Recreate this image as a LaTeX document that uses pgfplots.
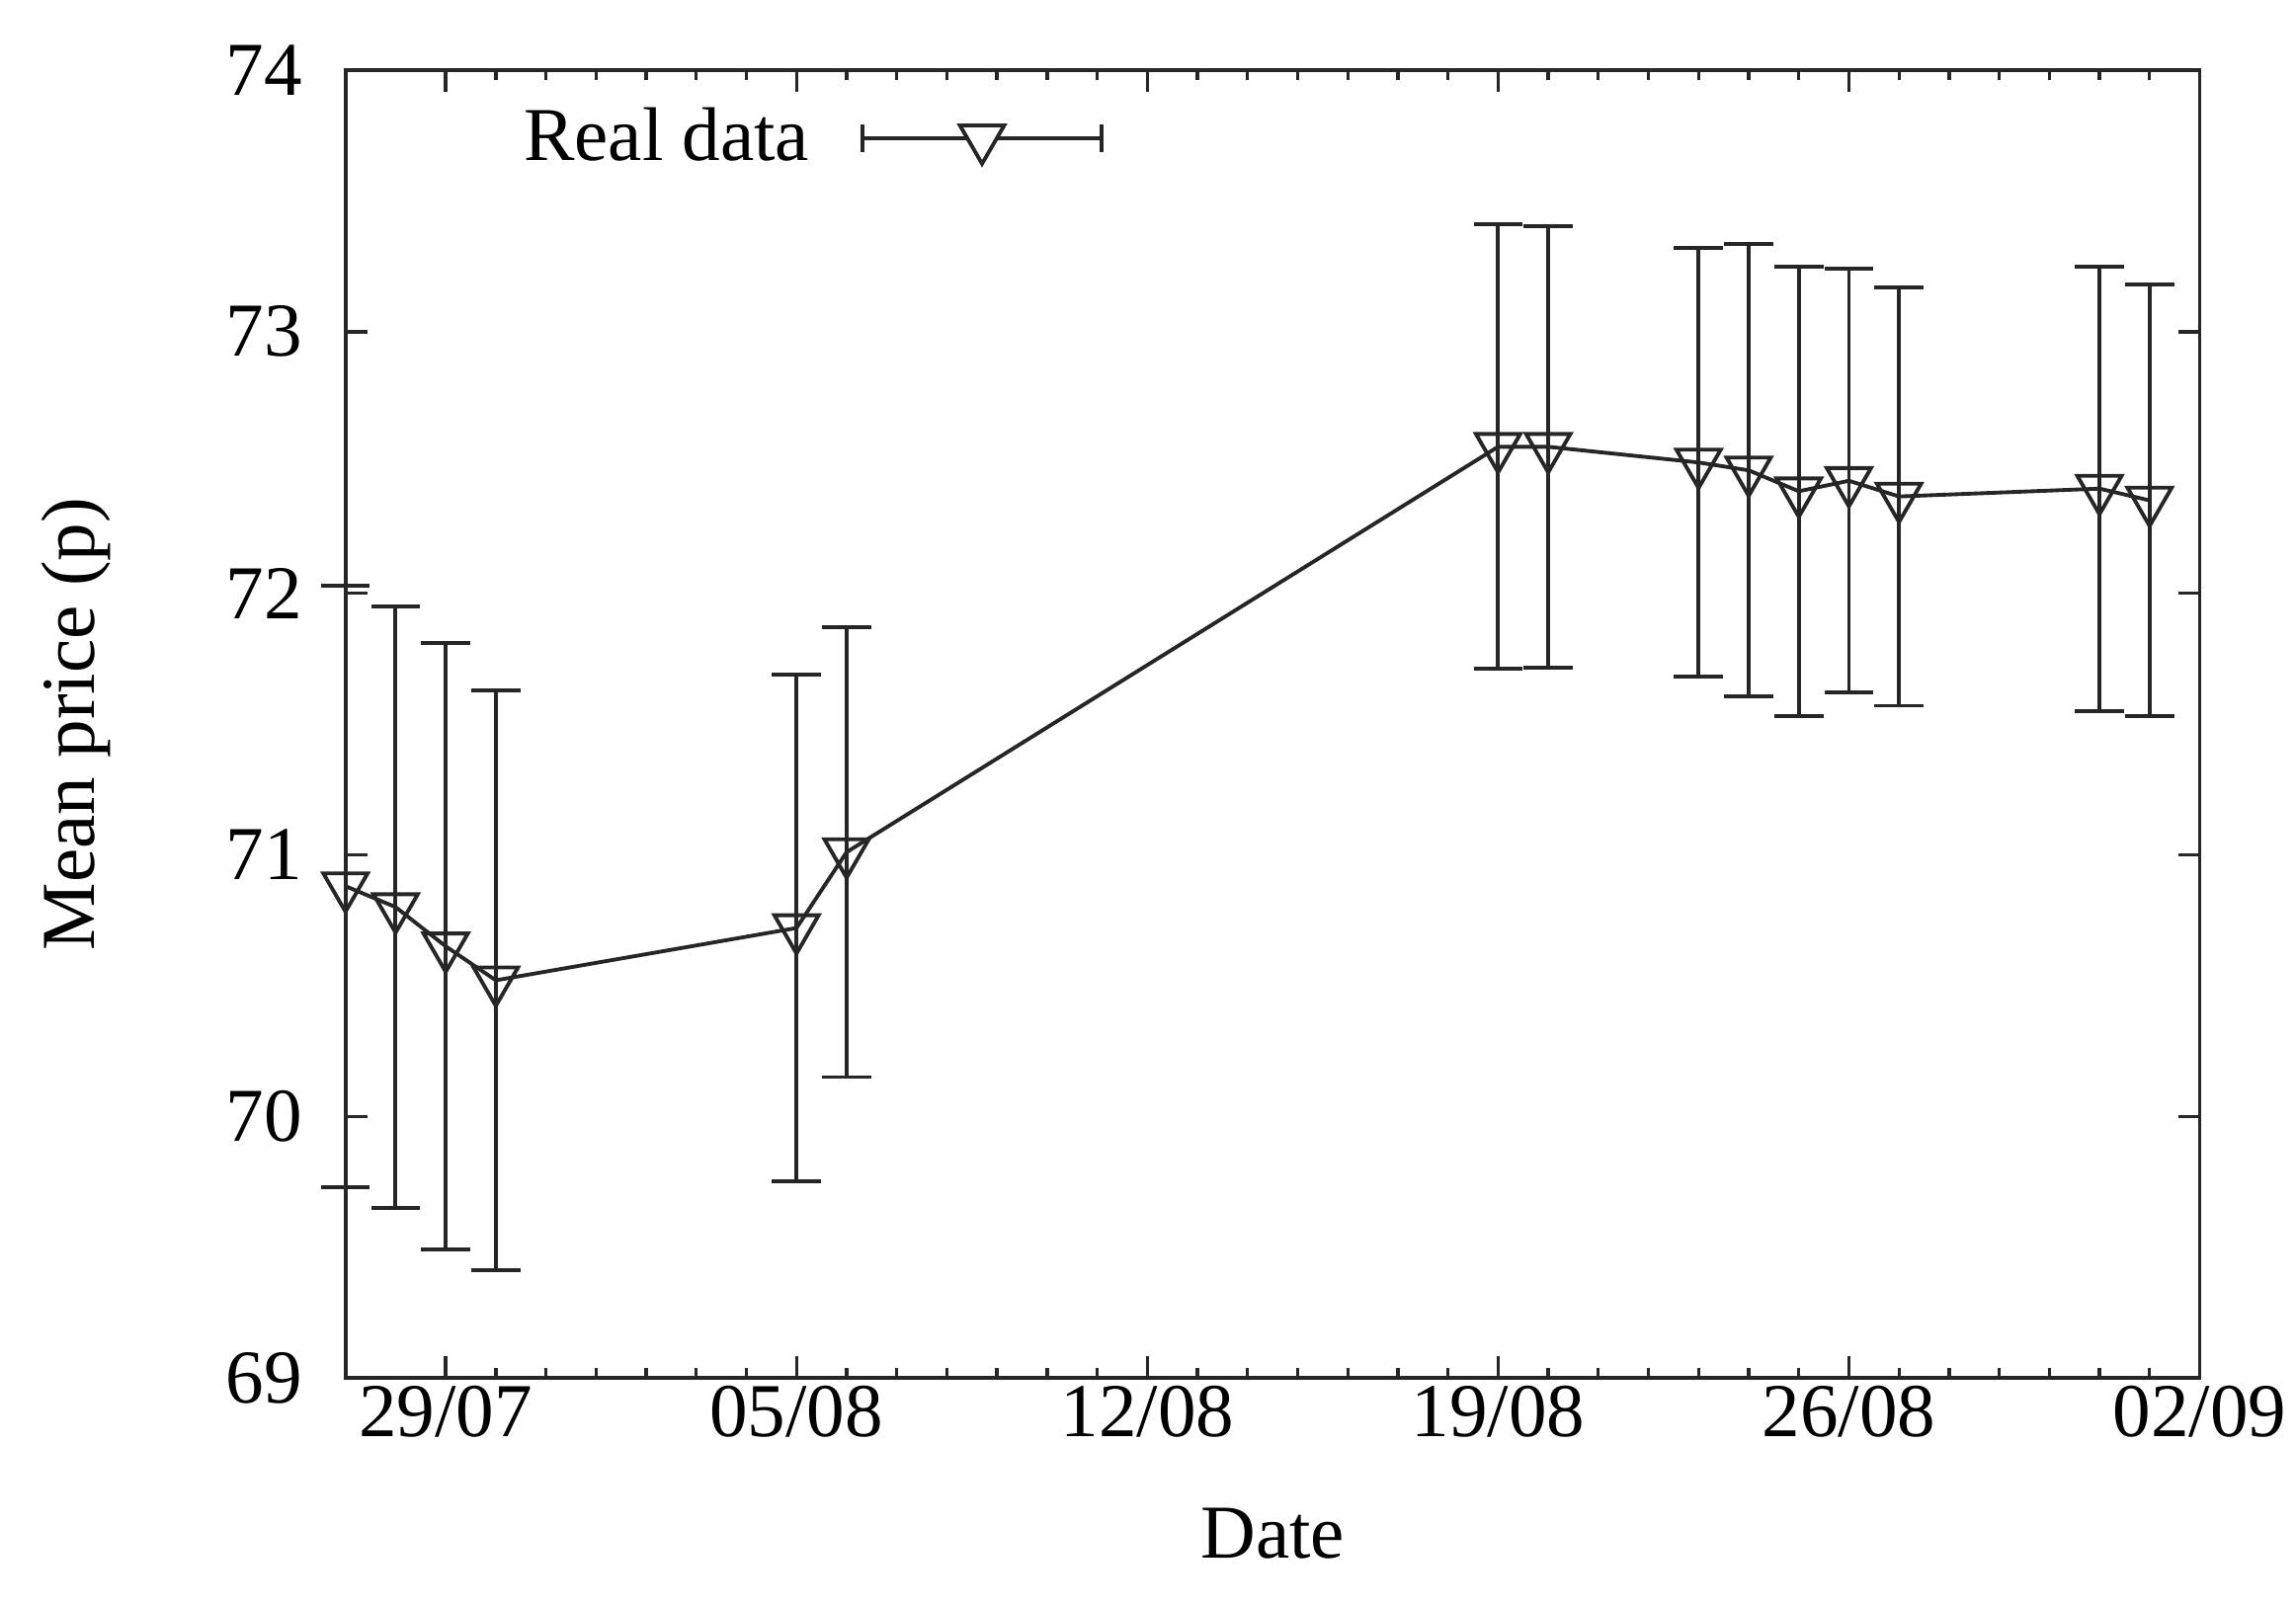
\documentclass[border=0pt]{standalone}
\usepackage{fontspec}
\setmainfont{Liberation Serif}
\usepackage{pgfplots}
\usepackage{pgfplotstable}
\pgfplotsset{compat=1.18}
\pgfplotstableread{
x y e
27 70.88 1.15
28 70.80 1.15
29 70.65 1.16
30 70.52 1.11
36 70.72 0.97
37 71.01 0.86
50 72.56 0.85
51 72.56 0.845
54 72.50 0.82
55 72.47 0.865
56 72.39 0.86
57 72.43 0.81
58 72.37 0.80
62 72.40 0.85
63 72.355 0.825
}\realdata
\definecolor{ink}{gray}{0.15}
\begin{document}
\begin{tikzpicture}[font=\fontsize{14}{16}\selectfont]
\useasboundingbox (-63.5pt,-41.8pt) rectangle (358.5pt,253.3pt);
\begin{axis}[
 at={(0pt,0pt)}, anchor=south west,
 scale only axis, width=340.8pt, height=240.4pt,
 xmin=27, xmax=64, ymin=69, ymax=74,
 xtick={29,36,43,50,57,64},
 xticklabels={29/07,05/08,12/08,19/08,26/08,02/09},
 minor x tick num=6,
 ytick={69,70,...,74},
 major tick length=4pt, minor tick length=1.8pt,
 tick style={ink, line width=0.6pt},
 axis line style={ink, line width=0.7pt},
 /pgf/number format/assume math mode=true,
 yticklabel style={xshift=-4.4pt},
 xticklabel style={yshift=2pt},
 xlabel={Date}, ylabel={Mean price (p)},
 xlabel style={at={(axis description cs:0.5,-0.1194)}, anchor=center},
 ylabel style={at={(axis description cs:-0.1455,0.5)}, anchor=center},
 clip=false,
 legend style={draw=none, fill=none, inner sep=0pt, column sep=9.4pt,
   at={(axis description cs:0.0956,0.948)}, anchor=west,
   nodes={inner sep=0pt}},
 legend plot pos=right,
 legend image code/.code={
   \draw[ink, line width=0.7pt] (0pt,0pt) -- (44pt,0pt);
   \draw[ink, line width=0.7pt] (0pt,-2.5pt) -- (0pt,2.5pt);
   \draw[ink, line width=0.7pt] (44pt,-2.5pt) -- (44pt,2.5pt);
   \draw[ink, line width=0.7pt, fill=white]
     ([shift={(150:4.7pt)}]22pt,0pt) -- ([shift={(30:4.7pt)}]22pt,0pt)
     -- ([shift={(-90:4.7pt)}]22pt,0pt) -- cycle;
 },
]
\addplot[ink, line width=0.7pt, mark=triangle, mark size=4.7pt,
  mark options={rotate=180, solid, line width=0.7pt},
  error bars/.cd, y dir=both, y explicit,
  error mark=-,
  error mark options={rotate=90, mark size=4.5pt, line width=0.7pt, ink},
  error bar style={line width=0.7pt, ink}]
  table[x=x, y=y, y error=e] {\realdata};
\addlegendentry{Real data}
\end{axis}
\end{tikzpicture}
\end{document}
